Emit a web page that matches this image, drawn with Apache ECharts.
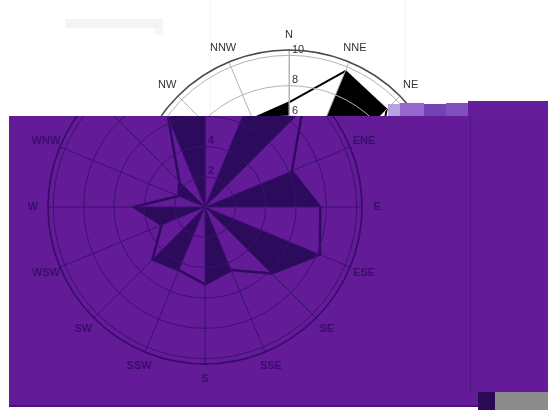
<!DOCTYPE html>
<html>
<head>
<meta charset="utf-8">
<script src="https://cdn.jsdelivr.net/npm/echarts@6/dist/echarts.min.js"></script>
<style>
  html, body { margin: 0; padding: 0; background: #fff; }
  #stage { position: relative; width: 548px; height: 410px; overflow: hidden; }
  #paper, #tint { position: absolute; left: 0; top: 0; width: 548px; height: 410px; }
  /* the tinted layer only shows inside its panel */
  #tint { clip-path: polygon(9px 116px, 388px 116px, 388px 101px, 548px 101px, 548px 410px, 9px 410px); }
</style>
</head>
<body>
<div id="stage">
  <div id="paper"></div>
  <div id="tint"></div>
</div>
<script>
// wind directions, clockwise from north
const directions = ['N', 'NNE', 'NE', 'ENE', 'E', 'ESE', 'SE', 'SSE',
                    'S', 'SSW', 'SW', 'WSW', 'W', 'WNW', 'NW', 'NNW'];
// frequency per direction
const frequency = [6.9, 9.7, 9.1, 6.2, 7.6, 8.2, 6.2, 4.5,
                   5.1, 4.5, 4.9, 3.1, 4.7, 1.9, 2.4, 6.3];
// labelled rings on the radius axis
const radiusTicks = [2, 4, 6, 8, 10];

const step = 360 / directions.length;
const RADIUS_MAX = 10.35;
const LABEL_RING = 11.35;   // compass names sit just outside the rim
const FONT = 'Liberation Sans, Arial, sans-serif';

function roseSeries(fill, stroke, width) {
  return {
    type: 'custom',
    coordinateSystem: 'polar',
    z: 1,
    silent: true,
    data: frequency.map((v, i) => [v, i * step]),
    renderItem(params, api) {
      const i = params.dataIndex;
      const j = (i + 1) % frequency.length;
      const o = api.coord([0, 0]);
      const p1 = api.coord([frequency[i], i * step]);
      const p2 = api.coord([frequency[j], j * step]);
      const children = [];
      if (i % 2 === 1) {
        children.push({ type: 'polygon', shape: { points: [o, p1, p2] }, style: { fill: fill } });
      }
      children.push({
        type: 'line',
        shape: { x1: p1[0], y1: p1[1], x2: p2[0], y2: p2[1] },
        style: { stroke: stroke, lineWidth: width, lineCap: 'round' }
      });
      return { type: 'group', children: children };
    }
  };
}

// compass names centred on a ring outside the plot
function compassSeries(color, weight) {
  return {
    type: 'custom',
    coordinateSystem: 'polar',
    z: 4,
    silent: true,
    clip: false,
    data: directions.map((d, i) => [LABEL_RING, i * step]),
    renderItem(params, api) {
      const p = api.coord([LABEL_RING, params.dataIndex * step]);
      return {
        type: 'text',
        x: p[0], y: p[1],
        style: {
          text: directions[params.dataIndex],
          fill: color, fontSize: 11, fontFamily: FONT, fontWeight: weight,
          align: 'center', verticalAlign: 'middle'
        }
      };
    }
  };
}

function roseOption(center, c) {
  return {
    animation: false,
    polar: { center: center, radius: 157 },
    angleAxis: {
      type: 'value', min: 0, max: 360, interval: step,
      startAngle: 90, clockwise: true, z: 3,
      axisLine: { show: true, lineStyle: { color: c.rim, width: 1.5 } },
      axisTick: { show: false },
      axisLabel: { show: false },
      splitLine: { show: true, lineStyle: { color: c.grid, width: 1 } }
    },
    radiusAxis: {
      type: 'value', min: 0, max: RADIUS_MAX, interval: 2, z: 2,
      axisLine: { show: true, lineStyle: { color: c.grid, width: 1 } },
      axisTick: { show: false },
      axisLabel: {
        margin: -3, align: 'left', verticalAlign: 'bottom',
        color: c.text, fontSize: 11, fontFamily: FONT, fontWeight: c.weight,
        formatter: v => (radiusTicks.indexOf(v) >= 0 ? String(v) : '')
      },
      splitLine: { show: true, lineStyle: { color: c.grid, width: 1 } }
    },
    series: [roseSeries(c.fill, c.line, c.lineWidth), compassSeries(c.text, c.weight)]
  };
}

// plain layer
const paper = echarts.init(document.getElementById('paper'), null, { renderer: 'canvas' });
const paperOpt = roseOption([289, 207], {
  rim: '#4a4a4a', grid: '#b4b4b4', text: '#333', weight: 'normal',
  fill: '#000', line: '#000', lineWidth: 2
});
paperOpt.backgroundColor = '#fff';
paperOpt.graphic = [
  { type: 'rect', shape: { x: 65, y: 19, width: 98, height: 9 }, style: { fill: '#f4f4f4' }, z: -5 },
  { type: 'rect', shape: { x: 155, y: 28, width: 8, height: 7 }, style: { fill: '#f6f6f6' }, z: -5 },
  { type: 'line', shape: { x1: 210, y1: 0, x2: 210, y2: 116 }, style: { stroke: '#f4f4f4', lineWidth: 1 }, z: -5 },
  { type: 'line', shape: { x1: 405, y1: 0, x2: 405, y2: 116 }, style: { stroke: '#f4f4f4', lineWidth: 1 }, z: -5 }
];
paper.setOption(paperOpt);

// tinted layer
const tint = echarts.init(document.getElementById('tint'), null, { renderer: 'canvas' });
const tintOpt = roseOption([205, 207], {
  rim: '#360c68', grid: '#3c1072', text: '#3a0f6a', weight: 'bold',
  fill: '#2c0b5c', line: '#2e0b60', lineWidth: 2.5
});
tintOpt.graphic = [
  { type: 'rect', shape: { x: 9, y: 116, width: 539, height: 291 }, style: { fill: '#631b98' }, z: -10 },
  { type: 'rect', shape: { x: 468, y: 101, width: 80, height: 16 }, style: { fill: '#651c9a' }, z: -10 },
  { type: 'rect', shape: { x: 388, y: 104, width: 12, height: 12 }, style: { fill: '#b9a2e2' }, z: -9 },
  { type: 'rect', shape: { x: 400, y: 103, width: 24, height: 13 }, style: { fill: '#9468cc' }, z: -9 },
  { type: 'rect', shape: { x: 424, y: 104, width: 22, height: 12 }, style: { fill: '#7442b4' }, z: -9 },
  { type: 'rect', shape: { x: 446, y: 103, width: 22, height: 13 }, style: { fill: '#8050bd' }, z: -9 },
  { type: 'line', shape: { x1: 470.5, y1: 116, x2: 470.5, y2: 392 }, style: { stroke: '#4e1482', lineWidth: 1 }, z: -9 },
  { type: 'rect', shape: { x: 9, y: 405, width: 539, height: 2 }, style: { fill: '#4a127c' }, z: -9 },
  { type: 'rect', shape: { x: 478, y: 392, width: 17, height: 18 }, style: { fill: '#2a0a55' }, z: 20 },
  { type: 'rect', shape: { x: 495, y: 392, width: 53, height: 18 }, style: { fill: '#8c8c8c' }, z: 20 }
];
tint.setOption(tintOpt);
</script>
</body>
</html>
